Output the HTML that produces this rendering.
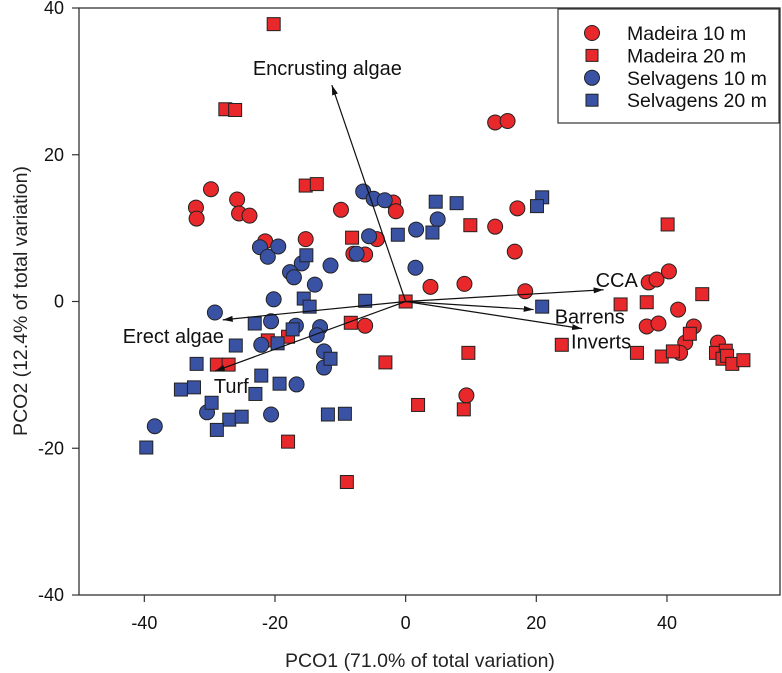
<!DOCTYPE html>
<html><head><meta charset="utf-8">
<style>
html,body{margin:0;padding:0;background:#fff;}
svg{display:block;font-family:"Liberation Sans",Arial,sans-serif;}
</style></head>
<body>
<svg id="chart" width="782" height="673" viewBox="0 0 782 673"></svg>
<script>
const xTicks=[-40,-20,0,20,40];
const yTicks=[-40,-20,0,20,40];
const seriesNames=["Madeira 10 m","Madeira 20 m","Selvagens 10 m","Selvagens 20 m"];
const madeira10X=[-29.8,-32.1,-32,-25.8,-25.5,-23.9,-9.9,-1.9,-1.5,-21.5,-15.3,-8,-6.2,-4.4,3.8,-6.2,13.7,15.6,17.1,13.7,16.7,9,18.3,37.2,38.4,40.3,41.7,36.9,38.7,44.1,42.8,42,47.8,9.3];
const madeira10Y=[15.3,12.8,11.3,13.9,12,11.7,12.5,13.5,12.3,8.2,8.5,6.5,6.4,8.5,2,-3.3,24.4,24.6,12.7,10.2,6.8,2.4,1.4,2.6,3,4.1,-1.1,-3.4,-3,-3.4,-5.6,-7,-5.6,-12.8];
const madeira20X=[-20.2,-27.6,-26.1,-15.3,-13.6,-8.2,0,-21.1,-18,-8.4,-28.9,-27.1,-3.1,1.9,-18,-9,9.9,40.1,32.9,36.9,45.4,43.5,23.9,9.6,35.4,39.2,40.9,47.5,49,48.5,49.2,50,51.7,8.9];
const madeira20Y=[37.8,26.2,26.1,15.8,16,8.7,0,-5.3,-4.8,-2.9,-8.6,-8.6,-8.3,-14.1,-19.1,-24.6,10.4,10.5,-0.4,-0.1,1,-4.4,-5.9,-7,-7,-7.5,-6.8,-7,-6.7,-7.8,-7.4,-8.5,-8,-14.7];
const selv10X=[-6.5,-4.9,-3.2,-5.6,1.6,4.9,-22.3,-21.1,-19.5,-15.9,-11.5,-17.7,-17.1,-13.9,-7.5,1.5,-20.2,-29.2,-20.6,-16.8,-13.1,-13.6,-22.1,-12.5,-12.5,-16.7,-30.4,-20.6,-38.4];
const selv10Y=[15,14,13.8,8.9,9.8,11.2,7.4,6.1,7.5,5.2,4.9,4,3.3,2.3,6.5,4.6,0.3,-1.5,-2.7,-3.3,-3.5,-4.6,-5.9,-6.8,-9,-11.3,-15.1,-15.4,-17];
const selv20X=[-15.2,-1.2,4.1,4.6,7.8,20.9,20.1,-15.6,-6.2,-14.7,-23.1,-17.3,-19.6,-26,-32,-11.5,-22.1,-19.3,-23,-34.4,-32.4,-29.7,-27,-25.1,-28.9,-11.9,-9.3,-39.7,20.9];
const selv20Y=[6.3,9.1,9.4,13.6,13.4,14.2,13,0.4,0.1,-0.7,-3,-3.8,-5.7,-6,-8.5,-7.8,-10.1,-11.2,-12.6,-12,-11.7,-13.8,-16.1,-15.7,-17.5,-15.4,-15.3,-19.9,-0.7];
const vecNames=["Encrusting algae","Erect algae","Turf","CCA","Barrens","Inverts"];
const vecX=[-11.3,-28,-29.2,30.3,19.6,27];
const vecY=[29.5,-2.5,-9.5,1.6,-1.1,-3.7];

const NS="http://www.w3.org/2000/svg";
const svg=document.getElementById('chart');
const L=79,R=780,T=8,B=595,xMin=-50,xMax=57.3,yMin=-40,yMax=40;
const sx=v=>L+(v-xMin)/(xMax-xMin)*(R-L);
const sy=v=>B-(v-yMin)/(yMax-yMin)*(B-T);
function mk(tag,attrs,parent){const e=document.createElementNS(NS,tag);for(const k in attrs)e.setAttribute(k,attrs[k]);(parent||svg).appendChild(e);return e;}

const defs=mk('defs',{});
const mkr=mk('marker',{id:'ah',markerWidth:'10',markerHeight:'6',refX:'10',refY:'3',orient:'auto',markerUnits:'userSpaceOnUse'},defs);
mk('path',{d:'M0,0 L10,3 L0,6 Z',fill:'#111'},mkr);

const frame=mk('rect',{x:L,y:T,width:R-L,height:B-T,fill:'none',stroke:'#333','stroke-width':1.3});



xTicks.forEach(t=>{
  const l=mk('line',{x1:sx(t),x2:sx(t),y1:B,y2:B+7,stroke:'#333','stroke-width':1.2});
  
  
  const tx=mk('text',{x:sx(t),y:629,'text-anchor':'middle','font-size':18,fill:'#111'});
  tx.textContent=t;
  
  
});
yTicks.forEach(t=>{
  const l=mk('line',{x1:L-7,x2:L,y1:sy(t),y2:sy(t),stroke:'#333','stroke-width':1.2});
  
  
  const tx=mk('text',{x:L-15,y:sy(t)+6,'text-anchor':'end','font-size':18,fill:'#111'});
  tx.textContent=t;
  
  
});
const xt=mk('text',{x:420,y:667,'text-anchor':'middle','font-size':19.5,fill:'#222'});
xt.textContent="PCO1 (71.0% of total variation)";


const yt=mk('text',{x:0,y:0,'text-anchor':'middle','font-size':19.5,fill:'#222',transform:'translate(27,301) rotate(-90)'});
yt.textContent="PCO2 (12.4% of total variation)";



function circle(cx,cy,fill,parent){return mk('circle',{cx:cx,cy:cy,r:7.5,fill:fill,stroke:'#222','stroke-width':1},parent);}
function square(cx,cy,fill,parent){return mk('rect',{x:cx-6.5,y:cy-6.5,width:13,height:13,fill:fill,stroke:'#222','stroke-width':1},parent);}
const RED='#e8282a',BLUE='#3a52a4';
const series=[[madeira10X,madeira10Y,'c',RED,'madeira-10m-point'],[madeira20X,madeira20Y,'s',RED,'madeira-20m-point'],[selv10X,selv10Y,'c',BLUE,'selvagens-10m-point'],[selv20X,selv20Y,'s',BLUE,'selvagens-20m-point']];
series.forEach(s=>{
  s[0].forEach((xv,i)=>{
    const e=s[2]==='c'?circle(sx(xv),sy(s[1][i]),s[3]):square(sx(xv),sy(s[1][i]),s[3]);
    
    
  });
});

const labelOff=[[-79,-10],[-100,23],[-1,22],[-8,-3],[21,14],[-11,20]];
vecX.forEach((xv,i)=>{
  const l=mk('line',{x1:sx(0),y1:sy(0),x2:sx(xv),y2:sy(vecY[i]),stroke:'#111','stroke-width':1.2,'marker-end':'url(#ah)'});
  
  
  const tx=mk('text',{x:sx(xv)+labelOff[i][0],y:sy(vecY[i])+labelOff[i][1],'font-size':20,fill:'#111'});
  tx.textContent=vecNames[i];
  
  
});

const lg=mk('g',{});


mk('rect',{x:558,y:9,width:221,height:114,fill:'#fff',stroke:'#333','stroke-width':1.2},lg);
seriesNames.forEach((n,i)=>{
  const y=33+i*22.4;
  const g=mk('g',{},lg);
  
  
  if(i%2===0)mk('circle',{cx:592,cy:y,r:7.5,fill:i<2?RED:BLUE,stroke:'#222','stroke-width':1},g);
  else mk('rect',{x:586,y:y-6,width:12,height:12,fill:i<2?RED:BLUE,stroke:'#222','stroke-width':1},g);
  const t=mk('text',{x:627,y:y+7,'font-size':19.5,fill:'#111'},g);
  t.textContent=n;
});
</script>
</body></html>
